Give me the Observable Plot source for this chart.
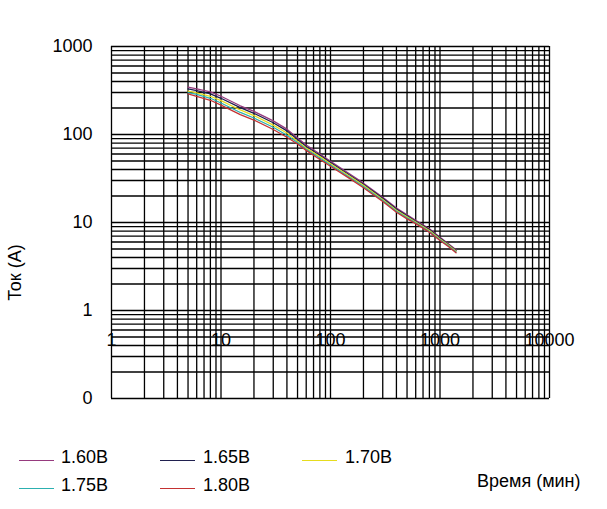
<!DOCTYPE html>
<html><head><meta charset="utf-8">
<script src="https://cdn.jsdelivr.net/npm/d3@7"></script>
<script src="https://cdn.jsdelivr.net/npm/@observablehq/plot@0.6"></script>
<style>
body{margin:0;background:#fff;font-family:"Liberation Sans",Arial,sans-serif;}
#wrap{width:607px;}
#legend{position:relative;width:607px;height:79px;font-size:18px;color:#000;}
.sw{position:absolute;width:35px;height:1px;}
.lb{position:absolute;line-height:18px;white-space:nowrap;}
</style></head><body>
<div id="wrap"><div id="chart"></div><div id="legend"></div></div>
<script>
const times = [5,6,8,10,15,20,30,40,50,60,80,100,150,200,300,400,500,600,800,1000,1200,1400];
const v160 = [345,330,305,272,212,183,143,115,91,76,60,49.5,35.5,28,19.3,14.6,12.2,10.6,8.5,6.8,5.7,4.9];
const v165 = [330,315,290,258,202,174,136,110,88,73,58,48,34.5,27.2,18.8,14.2,11.9,10.3,8.3,6.65,5.6,4.8];
const v170 = [312,298,272,243,190,164,128,104,84,70,56,46.5,33.5,26.4,18.3,13.8,11.6,10.1,8.1,6.5,5.5,4.72];
const v175 = [300,285,258,228,178,154,121,98,81,68,54,45,32.5,25.6,17.8,13.4,11.3,9.9,7.9,6.38,5.4,4.62];
const v180 = [290,272,245,216,168,146,114,93,78,66,52,43.5,31.5,24.8,17.3,13.1,11.0,9.7,7.75,6.25,5.3,4.52];
const seriesNames = ["1.60В","1.65В","1.70В","1.75В","1.80В"];
const seriesValues = [v160,v165,v170,v175,v180];
const seriesColors = ["#963a7e","#20204f","#e6dc1e","#2cb0b0","#c43232"];
const xTicks = [1,10,100,1000,10000];
const xTickLabels = ["1","10","100","1000","10000"];
const yTicks = [0.1,1,10,100,1000];
const yTickLabels = ["0","1","10","100","1000"];
const gridMultipliers = [1,2,3,4,5,6,7,8,9];
const xDecades = [1,10,100,1000];
const yDecades = [0.1,1,10,100];
const yTitle = "Ток (А)";
const xTitle = "Время (мин)";

const xGrid = xDecades.flatMap(d => gridMultipliers.map(m => d*m)).concat([10000]);
const yGrid = yDecades.flatMap(d => gridMultipliers.map(m => d*m)).concat([1000]);

const rows = [];
seriesNames.forEach((name, i) => times.forEach((t, j) => rows.push({series: name, t, v: seriesValues[i][j]})));

const chart = Plot.plot({
  width: 607, height: 430,
  marginLeft: 111, marginRight: 58, marginTop: 46, marginBottom: 32,
  style: {fontFamily: '"Liberation Sans", Arial, sans-serif', fontSize: "18px", color: "#000", background: "#fff"},
  x: {type: "log", domain: [1, 10000], axis: null},
  y: {type: "log", domain: [0.1, 1000], axis: null},
  color: {domain: seriesNames, range: seriesColors},
  marks: [
    Plot.ruleX(xGrid, {stroke: "#000", strokeWidth: 1.3}),
    Plot.ruleY(yGrid, {stroke: "#000", strokeWidth: 1.3}),
    Plot.line(rows, {x: "t", y: "v", z: "series", stroke: "series", strokeWidth: 1.3}),
    Plot.axisY({ticks: yTicks, tickSize: 0, tickPadding: 19, tickFormat: d => yTickLabels[yTicks.indexOf(d)], fontSize: 18, label: null}),
    Plot.axisX({ticks: xTicks, tickSize: 0, tickPadding: 0, dy: -58, lineAnchor: "middle", tickFormat: d => xTickLabels[xTicks.indexOf(d)], fontSize: 18, label: null}),
    Plot.text([yTitle], {frameAnchor: "left", textAnchor: "middle", rotate: -90, dx: -96, dy: 50, fontSize: 18, fill: "#000"})
  ]
});
document.getElementById("chart").appendChild(chart);

const legend = document.getElementById("legend");
const colLine = [19, 160, 302], colText = [61, 203, 345];
const rowText = [18, 46], rowLine = [30, 58];
seriesNames.forEach((name, i) => {
  const r = Math.floor(i / 3), c = i % 3;
  const sw = document.createElement("div");
  sw.className = "sw"; sw.style.left = colLine[c] + "px"; sw.style.top = rowLine[r] + "px";
  sw.style.background = seriesColors[i];
  legend.appendChild(sw);
  const lb = document.createElement("div");
  lb.className = "lb"; lb.style.left = colText[c] + "px"; lb.style.top = rowText[r] + "px";
  lb.textContent = name;
  legend.appendChild(lb);
});
const xt = document.createElement("div");
xt.className = "lb"; xt.style.left = "477px"; xt.style.top = "42px"; xt.textContent = xTitle;
legend.appendChild(xt);
</script>
</body></html>
